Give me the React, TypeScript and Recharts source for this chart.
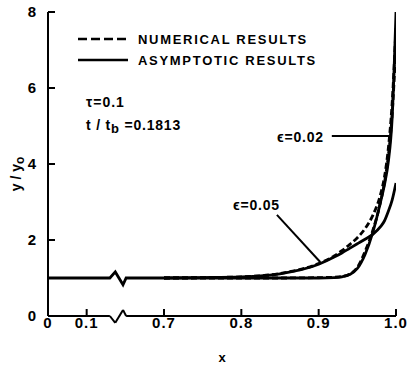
import React from 'react';
import { LineChart, Line, XAxis, YAxis, ReferenceLine, Customized } from 'recharts';

// x positions (true x) of the curve samples
const xGrid = [0.7, 0.75, 0.8, 0.85, 0.9, 0.92, 0.93, 0.94, 0.95, 0.96, 0.97, 0.98, 0.985, 0.99, 0.995, 1.0];
// eps = 0.05
const num05 = [1.0, 1.01, 1.03, 1.12, 1.38, 1.58, 1.72, 1.88, 2.06, 2.3, 2.65, 3.2, 3.65, 4.4, 5.6, 7.6];
const asy05 = [1.0, 1.01, 1.03, 1.11, 1.36, 1.55, 1.66, 1.78, 1.9, 2.02, 2.15, 2.35, 2.5, 2.75, 3.05, 3.5];
// eps = 0.02
const num02 = [1.0, 1.0, 1.0, 1.0, 1.01, 1.02, 1.04, 1.1, 1.28, 1.7, 2.25, 3.0, 3.5, 4.2, 5.3, 7.2];
const asy02 = [1.0, 1.0, 1.0, 1.0, 1.0, 1.01, 1.03, 1.09, 1.25, 1.62, 2.2, 3.0, 3.45, 4.05, 5.2, 8.0];

// flat part of the solution before the axis break (true x 0..0.7)
const baseX = [0, 0.1, 0.7];
const baseY = [1.0, 1.0, 1.0];

const xTicks = [0, 0.1, 0.7, 0.8, 0.9, 1.0];
const xTickLabels = ['0', '0.1', '0.7', '0.8', '0.9', '1.0'];
const yTicks = [0, 2, 4, 6, 8];

// broken axis: 0..0.1 is stretched to half a unit, 0.1..0.7 compressed to one unit
const toD = (x: number) => (x >= 0.7 ? x * 10 : x <= 0.1 ? 5.5 + x * 5 : 6 + (x - 0.1) / 0.6);

// axis-break zigzag (display units)
const brk = [6.3, 6.37, 6.47, 6.51];

const rows = xGrid.map((x, i) => ({ d: toD(x), n05: num05[i], a05: asy05[i], n02: num02[i], a02: asy02[i] }));
const baseRows = [
  { d: toD(baseX[0]), y: baseY[0] },
  { d: toD(baseX[1]), y: baseY[1] },
  { d: brk[0], y: 1 },
  { d: brk[1], y: 1.16 },
  { d: brk[2], y: 0.82 },
  { d: brk[3], y: 1 },
  { d: toD(baseX[2]), y: baseY[2] },
];

const FONT = '"Liberation Sans", Arial, sans-serif';
const tickStyle = { fontFamily: FONT, fontWeight: 700, fontSize: 15, fill: '#000', letterSpacing: 1 };

const Annotations = () => (
  <g fontFamily={FONT} fontWeight={700} fill="#000">
    <line x1={78} y1={39} x2={128} y2={39} stroke="#000" strokeWidth={2.5} strokeDasharray="9 4" />
    <line x1={78} y1={60} x2={128} y2={60} stroke="#000" strokeWidth={2.5} />
    <text x={138} y={44} fontSize={13} letterSpacing={1.7}>NUMERICAL  RESULTS</text>
    <text x={138} y={65} fontSize={13} letterSpacing={1.7}>ASYMPTOTIC  RESULTS</text>
    <text x={86} y={107} fontSize={14} letterSpacing={1}>τ=0.1</text>
    <text x={86} y={130} fontSize={14} letterSpacing={0.8}>
      t / t<tspan dy={3} fontSize={13}>b</tspan><tspan dy={-3}> =0.1813</tspan>
    </text>
    <text x={277} y={142} fontSize={14} letterSpacing={0.8}>ϵ=0.02</text>
    <text x={233} y={210} fontSize={14} letterSpacing={0.8}>ϵ=0.05</text>
    <text x={21} y={174} fontSize={14} textAnchor="middle" transform="rotate(-90 21 174)">y / y<tspan dy={3} fontSize={12}>o</tspan></text>
    <text x={222} y={362} fontSize={13} textAnchor="middle">x</text>
  </g>
);

const seg = (x1: number, y1: number, x2: number, y2: number, key: string) => (
  <ReferenceLine
    key={key}
    segment={[{ x: x1, y: y1 }, { x: x2, y: y2 }]}
    stroke="#000"
    strokeWidth={2}
    ifOverflow="visible"
  />
);

export default function App() {
  return (
    <div style={{ position: 'absolute', left: 0, top: 0, background: '#fff' }}>
      <LineChart width={408} height={373} data={rows} margin={{ top: 12, right: 12, bottom: 0, left: 0 }}>
        <XAxis
          dataKey="d"
          type="number"
          domain={[5.5, 10]}
          ticks={xTicks.map(toD)}
          tickFormatter={(v: number) => xTickLabels[xTicks.map(toD).indexOf(v)] ?? ''}
          allowDataOverflow
          height={57}
          axisLine={false}
          tickLine={{ stroke: '#000', strokeWidth: 2 }}
          tickSize={-7}
          tickMargin={8}
          tick={tickStyle}
          interval={0}
        />
        <XAxis
          xAxisId="top"
          orientation="top"
          type="number"
          domain={[5.5, 10]}
          ticks={[6, 7, 8, 9]}
          height={0}
          axisLine={{ stroke: '#000', strokeWidth: 2 }}
          tickLine={{ stroke: '#000', strokeWidth: 2 }}
          tickSize={-7}
          tick={false}
        />
        <YAxis
          type="number"
          domain={[0, 8]}
          ticks={yTicks}
          width={48}
          allowDataOverflow
          axisLine={{ stroke: '#000', strokeWidth: 2 }}
          tickLine={{ stroke: '#000', strokeWidth: 2 }}
          tickSize={-7}
          tickMargin={18}
          tick={tickStyle}
          interval={0}
        />
        <YAxis
          yAxisId="right"
          orientation="right"
          type="number"
          domain={[0, 8]}
          ticks={[2, 4, 6]}
          width={0}
          axisLine={{ stroke: '#000', strokeWidth: 2 }}
          tickLine={{ stroke: '#000', strokeWidth: 2 }}
          tickSize={-7}
          tick={false}
        />
        {seg(5.5, 0, brk[0], 0, 'b0')}
        {seg(brk[0], 0, brk[1], -0.18, 'b1')}
        {seg(brk[1], -0.18, brk[2], 0.16, 'b2')}
        {seg(brk[2], 0.16, brk[3], 0, 'b3')}
        {seg(brk[3], 0, 10, 0, 'b4')}
        <ReferenceLine segment={[{ x: 9.17, y: 4.74 }, { x: 9.92, y: 4.74 }]} stroke="#000" strokeWidth={2} ifOverflow="visible" />
        <ReferenceLine segment={[{ x: 8.46, y: 2.66 }, { x: 9.02, y: 1.42 }]} stroke="#000" strokeWidth={2} ifOverflow="visible" />
        <Line data={baseRows} dataKey="y" type="linear" stroke="#000" strokeWidth={2.8} dot={false} isAnimationActive={false} />
        <Line dataKey="a05" type="monotone" stroke="#000" strokeWidth={2.8} dot={false} isAnimationActive={false} />
        <Line dataKey="a02" type="monotone" stroke="#000" strokeWidth={2.8} dot={false} isAnimationActive={false} />
        <Line dataKey="n05" type="monotone" stroke="#000" strokeWidth={2.8} strokeDasharray="6 3" dot={false} isAnimationActive={false} />
        <Line dataKey="n02" type="monotone" stroke="#000" strokeWidth={2.8} strokeDasharray="6 3" dot={false} isAnimationActive={false} />
        <Customized component={Annotations} />
      </LineChart>
    </div>
  );
}
